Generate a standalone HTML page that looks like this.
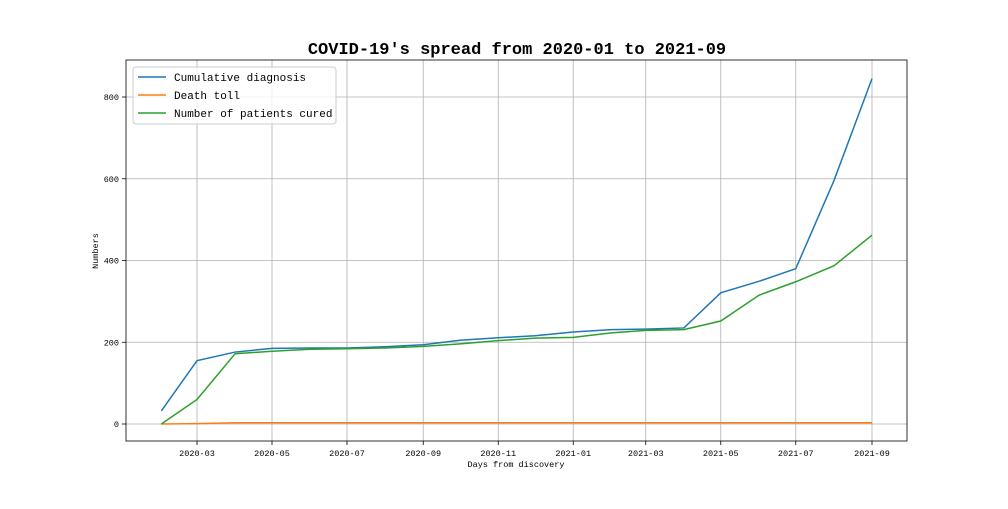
<!DOCTYPE html>
<html><head><meta charset="utf-8"><style>
body{margin:0;background:#fff}
svg text{font-family:"Liberation Mono","Noto Sans CJK SC",monospace;fill:#000}
</style></head><body>
<svg id="chart" width="1008" height="504"></svg>
<script>
const months=["2020-02","2020-03","2020-04","2020-05","2020-06","2020-07","2020-08","2020-09","2020-10","2020-11","2020-12","2021-01","2021-02","2021-03","2021-04","2021-05","2021-06","2021-07","2021-08","2021-09"];
const diagnosis=[32,155,176,185,186,186,189,194,205,211,216,225,231,232,235,321,349,380,595,845];
const deaths=[0,1,3,3,3,3,3,3,3,3,3,3,3,3,3,3,3,3,3,3];
const cured=[0,60,172,178,183,184,186,190,196,204,210,212,223,229,231,252,315,348,387,462];
const xTicks=["2020-03","2020-05","2020-07","2020-09","2020-11","2021-01","2021-03","2021-05","2021-07","2021-09"];
const yTicks=[0,200,400,600,800];
const NS="http://www.w3.org/2000/svg";
const svg=document.getElementById("chart");
const L=126,R=907,T=60,B=441;
const d0=Date.UTC(2020,2,1),d1=Date.UTC(2021,8,1);
function toDate(s){const p=s.split("-");return Date.UTC(+p[0],+p[1]-1,1);}
function x(s){return 197+(toDate(s)-d0)/(d1-d0)*(872-197);}
function y(v){return 424-v*(424-97)/800;}
function el(tag,attrs,parent){const e=document.createElementNS(NS,tag);for(const k in attrs)e.setAttribute(k,attrs[k]);(parent||svg).appendChild(e);return e;}
xTicks.forEach(t=>{const g=el("line",{x1:x(t),x2:x(t),y1:T,y2:B,stroke:"#b0b0b0","stroke-width":0.8});


const tk=el("line",{x1:x(t),x2:x(t),y1:B,y2:B+4,stroke:"#000","stroke-width":0.8});


const tx=el("text",{x:x(t),y:B+15,"text-anchor":"middle","font-size":8.5});tx.textContent=t;

});
yTicks.forEach(v=>{const g=el("line",{x1:L,x2:R,y1:y(v),y2:y(v),stroke:"#b0b0b0","stroke-width":0.8});


const tk=el("line",{x1:L-4,x2:L,y1:y(v),y2:y(v),stroke:"#000","stroke-width":0.8});


const tx=el("text",{x:L-7,y:y(v)+3,"text-anchor":"end","font-size":8.5});tx.textContent=v;

});
const series=[[diagnosis,"#1f77b4","diagnosis-line"],[deaths,"#ff7f0e","death-line"],[cured,"#2ca02c","cured-line"]];
series.forEach(([d,c,n])=>{const p=el("polyline",{points:d.map((v,i)=>x(months[i])+","+y(v)).join(" "),fill:"none",stroke:c,"stroke-width":1.5});

});
const f=el("rect",{x:L,y:T,width:R-L,height:B-T,fill:"none",stroke:"#000","stroke-width":0.8});


const ti=el("text",{x:517,y:54,"text-anchor":"middle","font-size":17,"font-weight":"bold"});ti.textContent="COVID-19's spread from 2020-01 to 2021-09";


const xl=el("text",{x:516,y:467,"text-anchor":"middle","font-size":8.5});xl.textContent="Days from discovery";


const yl=el("text",{x:98,y:251,"text-anchor":"middle","font-size":8.5,transform:"rotate(-90 98 251)"});yl.textContent="Numbers";


const lg=el("rect",{x:133,y:67,width:203,height:57,rx:3,fill:"#fff","fill-opacity":0.8,stroke:"#ccc"});


const names=["Cumulative diagnosis","Death toll","Number of patients cured"];
names.forEach((nm,i)=>{const yy=77+i*18;
const ln=el("line",{x1:138,x2:166,y1:yy,y2:yy,stroke:series[i][1],"stroke-width":1.5});


const t=el("text",{x:174,y:yy+4,"font-size":11});t.textContent=nm;

});
</script>
</body></html>
